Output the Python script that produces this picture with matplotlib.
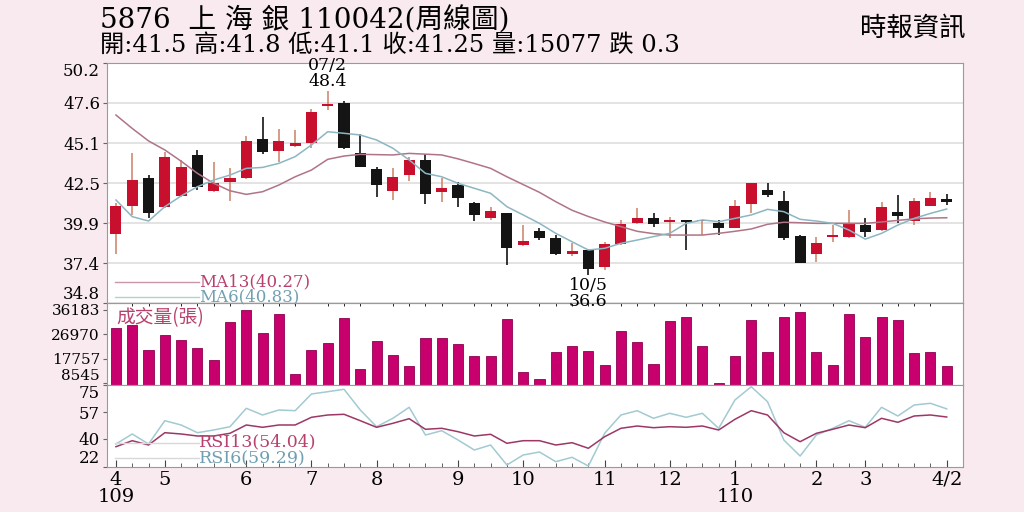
import numpy as np
import matplotlib
matplotlib.use("Agg")
import matplotlib.pyplot as plt

plt.rcParams['font.family'] = ['DejaVu Serif', 'Noto Sans CJK TC']

# weekly OHLC, 109/4 .. 110/4/2
opens = [39.21, 41.02, 42.80, 40.98, 41.67, 44.30, 42.00, 42.58, 42.80, 45.34,
         44.57, 44.87, 45.05, 47.44, 47.61, 44.44, 43.40, 42.00, 43.01, 43.98,
         41.90, 42.37, 41.24, 40.23, 40.55, 38.50, 39.44, 38.95, 37.94, 38.20,
         37.09, 38.59, 39.91, 40.23, 39.98, 40.13, 40.04, 39.96, 39.63, 41.15,
         42.05, 41.36, 39.12, 37.92, 39.01, 39.06, 39.80, 39.48, 40.66, 40.06,
         41.04, 41.50]
highs = [41.20, 44.41, 43.00, 44.50, 43.98, 44.62, 43.87, 43.48, 45.52, 46.75,
         45.96, 45.90, 47.23, 48.40, 47.78, 45.64, 43.50, 43.46, 44.19, 44.36,
         42.80, 42.58, 41.30, 40.98, 40.60, 39.80, 39.60, 39.16, 38.63, 38.25,
         38.73, 40.13, 40.91, 40.55, 40.34, 40.15, 40.15, 40.13, 41.41, 42.50,
         42.48, 42.00, 39.15, 39.06, 39.80, 40.77, 40.23, 41.30, 41.73, 41.52,
         41.94, 41.80]
lows = [37.94, 40.45, 40.25, 40.90, 41.60, 42.05, 41.95, 41.35, 42.75, 44.34,
        43.87, 44.82, 44.73, 47.18, 44.70, 43.50, 41.62, 41.41, 42.65, 41.15,
        41.30, 40.98, 40.08, 40.13, 37.24, 38.45, 38.84, 37.90, 37.81, 36.60,
        36.92, 38.55, 39.88, 39.70, 38.95, 38.20, 39.16, 39.16, 39.60, 40.55,
        41.62, 38.84, 37.39, 37.45, 38.73, 39.00, 39.01, 39.45, 39.96, 39.80,
        41.00, 41.10]
closes = [41.04, 42.69, 40.59, 44.15, 43.55, 42.22, 42.52, 42.84, 45.21, 44.51,
          45.20, 45.09, 47.04, 47.57, 44.76, 43.55, 42.37, 42.90, 43.98, 41.80,
          42.20, 41.52, 40.45, 40.70, 38.31, 38.80, 38.99, 37.94, 38.16, 36.98,
          38.59, 39.87, 40.23, 39.87, 40.13, 39.98, 40.13, 39.60, 41.04, 42.48,
          41.73, 38.99, 37.39, 38.67, 39.16, 39.87, 39.37, 40.98, 40.40, 41.36,
          41.55, 41.25]
volumes = [29280, 30400, 21060, 26665, 24800, 21810, 17330, 31520, 36183, 27410,
           34510, 12090, 21060, 23680, 33020, 13960, 24420, 19190, 15080, 25540,
           25540, 23300, 18820, 18820, 32640, 12840, 10230, 20310, 22560, 20690,
           15450, 28160, 24050, 15830, 31900, 33390, 22560, 8545, 18820, 32270,
           20310, 33390, 35260, 20310, 15450, 34510, 25920, 33390, 32270, 19940,
           20310, 15077]
ma13 = [46.86, 46.00, 45.20, 44.62, 43.90, 43.12, 42.48, 42.00, 41.77, 41.94,
        42.37, 42.90, 43.33, 44.02, 44.23, 44.34, 44.32, 44.30, 44.40, 44.35,
        44.30, 44.05, 43.75, 43.44, 42.90, 42.40, 41.90, 41.30, 40.75, 40.35,
        40.00, 39.70, 39.40, 39.25, 39.16, 39.16, 39.16, 39.27, 39.40, 39.55,
        39.85, 39.98, 39.95, 39.91, 39.91, 39.91, 39.91, 40.00, 40.10, 40.20,
        40.25, 40.27]
ma6 = [41.41, 40.34, 40.06, 40.98, 41.67, 42.26, 42.69, 43.01, 43.44, 43.50,
       43.76, 44.19, 44.94, 45.79, 45.69, 45.58, 45.26, 44.73, 43.98, 43.12,
       42.90, 42.48, 42.16, 41.84, 40.98, 40.45, 39.91, 39.27, 38.73, 38.20,
       38.31, 38.63, 38.84, 39.06, 39.27, 39.91, 40.13, 40.02, 40.23, 40.45,
       40.81, 40.66, 40.17, 40.06, 39.91, 39.48, 38.90, 39.27, 39.80, 40.23,
       40.55, 40.83]
rsi13 = [34.90, 38.77, 35.99, 43.92, 43.09, 41.80, 41.80, 43.54, 48.89, 47.40,
         48.89, 48.89, 53.85, 55.34, 55.79, 51.66, 47.40, 49.98, 52.95, 46.12,
         46.76, 44.57, 41.80, 42.89, 37.09, 38.77, 38.77, 35.99, 37.48, 33.87,
         41.34, 46.76, 48.24, 47.15, 47.79, 47.40, 48.24, 45.66, 52.56, 58.11,
         55.34, 43.92, 38.12, 43.54, 46.12, 48.89, 47.15, 53.21, 50.63, 54.69,
         55.34, 54.04]
rsi6 = [36.64, 43.09, 36.64, 51.66, 48.89, 43.92, 45.66, 47.79, 59.65, 55.34,
        58.56, 58.11, 68.87, 70.36, 71.91, 58.56, 47.79, 53.21, 60.30, 42.44,
        45.21, 39.22, 32.77, 35.99, 23.10, 29.55, 31.48, 25.23, 28.06, 22.45,
        43.54, 55.34, 58.11, 53.21, 56.43, 53.85, 56.43, 46.76, 65.01, 73.58,
        63.91, 39.22, 28.90, 42.44, 46.76, 51.66, 47.40, 60.30, 54.69, 61.78,
        62.88, 59.29]

month_pos = [0, 3, 8, 12, 16, 21, 25, 30, 34, 38, 43, 46, 51]
month_labels = ["4\n109", "5", "6", "7", "8", "9", "10", "11", "12", "1\n110", "2", "3", "4/2"]
price_labels = ["34.8", "37.4", "39.9", "42.5", "45.1", "47.6", "50.2"]
vol_ticks = [8545, 17757, 26970, 36183]
rsi_ticks = [22, 40, 57, 75]

RED = "#c8102e"
BLACK = "#141414"
MA13_C = "#b07486"
MA6_C = "#8cb6c2"
RSI13_C = "#9c3766"
RSI6_C = "#a2cad2"
VOL_C = "#c8006e"
SPINE = "#9a9a9a"

fig = plt.figure(figsize=(10.24, 5.12), dpi=100, facecolor="#f8eaee")
L, W = 107 / 1024, 856 / 1024
ax = fig.add_axes([L, 1 - 303 / 512, W, 240 / 512])
axv = fig.add_axes([L, 1 - 384.5 / 512, W, 81.5 / 512], sharex=ax)
axr = fig.add_axes([L, 1 - 466.7 / 512, W, 82.2 / 512], sharex=ax)
ax.set_zorder(5)

x = np.arange(len(closes))
o = np.array(opens); c = np.array(closes)
up = c >= o
body_col = [RED if u else BLACK for u in up]
wick_col = ["#d08a72" if u else BLACK for u in up]

ax.vlines(x, lows, highs, colors=wick_col, lw=1.2, zorder=2)
bottoms = np.minimum(o, c)
heights = np.maximum(np.abs(c - o), 0.07)
ax.bar(x, heights, bottom=bottoms, width=0.68, color=body_col, zorder=3)
ax.plot(x, ma13, color=MA13_C, lw=1.1, zorder=4)
ax.plot(x, ma6, color=MA6_C, lw=1.1, zorder=4)

ax.set_xlim(-0.55, 52.0)
ax.set_ylim(34.8, 50.2)
pt = np.linspace(34.8, 50.2, 7)
ax.set_yticks(pt)
ax.set_yticklabels(price_labels)
ax.grid(axis="y", color="#dedede", lw=1.2)
ax.set_axisbelow(True)

# highs / lows notes
ax.annotate("07/2\n48.4", (13, highs[13]), xytext=(0, 1), textcoords="offset pixels",
            ha="center", va="bottom", fontsize=12.5, linespacing=0.9,
            annotation_clip=False, zorder=10)
ax.annotate("10/5\n36.6", (29, lows[29]), xytext=(0, -2), textcoords="offset pixels",
            ha="center", va="top", fontsize=12.5, linespacing=0.9,
            annotation_clip=False, zorder=10)

# MA legend
ax.plot([0.009, 0.108], [0.088, 0.088], transform=ax.transAxes, color="#c898a6", lw=1)
ax.plot([0.009, 0.108], [0.027, 0.027], transform=ax.transAxes, color="#b4ced6", lw=1)
ax.text(0.108, 0.090, "MA13(40.27)", transform=ax.transAxes, color="#b8406e",
        fontsize=12, va="center")
ax.text(0.108, 0.024, "MA6(40.83)", transform=ax.transAxes, color="#6f9fb0",
        fontsize=12, va="center")

# volume
axv.bar(x, volumes, width=0.62, color=VOL_C, edgecolor="#8c0050", lw=0.6)
axv.set_ylim(8150, 38800)
axv.set_yticks(vol_ticks)
axv.set_yticklabels([str(v) for v in vol_ticks])
axv.text(0.011, 0.82, "成交量(張)", transform=axv.transAxes, color="#b8406e",
         fontsize=13.5, va="center", family=["Noto Sans CJK TC"])

# RSI
axr.plot(x, rsi6, color=RSI6_C, lw=1.1)
axr.plot(x, rsi13, color=RSI13_C, lw=1.1)
axr.set_ylim(22, 75)
axr.set_yticks(rsi_ticks)
axr.set_yticklabels([str(v) for v in rsi_ticks])
axr.plot([0.009, 0.108], [0.292, 0.292], transform=axr.transAxes, color="#d8d8d8", lw=1)
axr.plot([0.009, 0.108], [0.102, 0.102], transform=axr.transAxes, color="#d8d8d8", lw=1)
axr.text(0.108, 0.30, "RSI13(54.04)", transform=axr.transAxes, color="#b8406e",
         fontsize=12.5, va="center")
axr.text(0.108, 0.095, "RSI6(59.29)", transform=axr.transAxes, color="#6f9fb0",
         fontsize=12.5, va="center")

axr.set_xticks(month_pos)
axr.set_xticklabels(month_labels, fontsize=14, linespacing=0.95)
axr.set_xticks(x, minor=True)
axr.tick_params(axis="x", which="minor", direction="in", length=3, color="#444")
axr.tick_params(axis="x", which="major", direction="in", length=5, color="#444", pad=3)
plt.setp(ax.get_xticklabels(), visible=False)
plt.setp(axv.get_xticklabels(), visible=False)
ax.tick_params(axis="x", length=0)
axv.tick_params(axis="x", length=0)

for a in (ax, axv, axr):
    a.set_facecolor("white")
    for s in a.spines.values():
        s.set_color(SPINE)
    a.tick_params(axis="y", labelsize=12, length=3, color="#666", pad=2)
axv.tick_params(axis="y", labelsize=11)

# keep end labels inside panels
for a in (ax, axr):
    labs = a.get_yticklabels()
    labs[0].set_va("bottom")
    labs[-1].set_va("top")
axv.get_yticklabels()[0].set_va("bottom")

fig.text(100 / 1024, 1 - 21 / 512, "5876  上 海 銀 110042(周線圖)", fontsize=20,
         va="center", family=["DejaVu Serif", "Noto Sans CJK TC"])
fig.text(100 / 1024, 1 - 45 / 512, "開:41.5 高:41.8 低:41.1 收:41.25 量:15077 跌 0.3",
         fontsize=17.5, va="center", family=["DejaVu Serif", "Noto Sans CJK TC"])
fig.text(965 / 1024, 1 - 28 / 512, "時報資訊", fontsize=19, va="center", ha="right",
         family=["Noto Sans CJK TC"])

fig.savefig("out.png", dpi=100, facecolor=fig.get_facecolor())
